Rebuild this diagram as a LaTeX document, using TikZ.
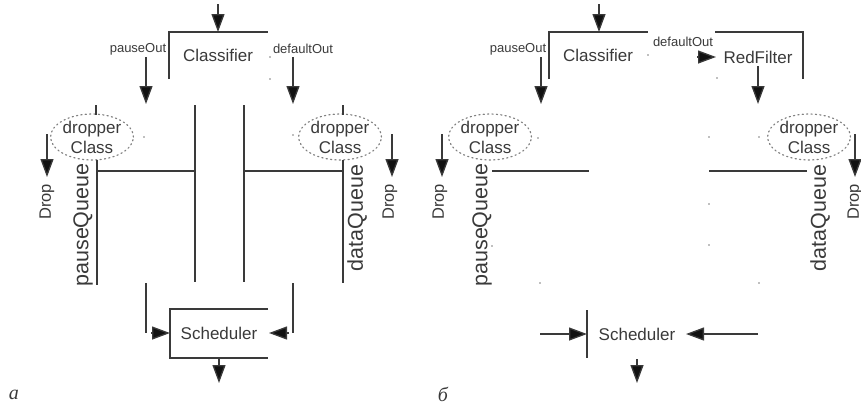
\documentclass[tikz,border=0pt]{standalone}
\usepackage{fontspec}
\setmainfont{Liberation Sans}
\newfontfamily\panelfont{Liberation Serif}
\usetikzlibrary{arrows.meta,shapes.geometric}
\definecolor{ink}{HTML}{3A3A3A}
\definecolor{tipink}{HTML}{111111}
\definecolor{dotgray}{HTML}{808080}

\begin{document}
\begin{tikzpicture}[x=1pt,y=-1pt,
  line/.style={draw=ink,line width=1.3pt},
  flow/.style={line,-{Triangle[length=18pt,width=13pt,fill=tipink]}},
  lbl/.style={text=ink,font=\fontsize{17}{20}\selectfont,inner sep=0pt},
  port/.style={text=ink,font=\fontsize{13}{15}\selectfont,inner sep=0pt},
  queue/.style={text=ink,font=\fontsize{21.5}{24}\selectfont,inner sep=0pt,rotate=90},
  droptxt/.style={text=ink,font=\fontsize{16.5}{19}\selectfont,inner sep=0pt,rotate=90},
  dropper/.style={ellipse,draw=dotgray,dash pattern=on 1.2pt off 3.2pt,line width=1.2pt,
    line cap=round,inner sep=0pt,text=ink,align=center,font=\fontsize{17}{20}\selectfont},
  speck/.style={fill=dotgray,draw=none,circle,inner sep=0pt,minimum size=1.6pt},
  panel/.style={text=ink,font=\panelfont\itshape\fontsize{20}{22}\selectfont,inner sep=0pt}
]
\useasboundingbox (0,0) rectangle (861,405);

% ---------------- panel a ----------------
% classifier
\coordinate (inA) at (218,4);
\coordinate (clsAtop) at (218,32);
\draw[line] (169,79) -- (169,32) -- (268,32);
\node[lbl] (clsA) at (218,55) {Classifier};
\draw[flow] (inA) -- (clsAtop);

% output ports
\node[port] (poA) at (138,49) {pauseOut};
\node[port] (doA) at (303,49) {defaultOut};
\coordinate (poAs) at (146,57);  \coordinate (poAe) at (146,104);
\coordinate (doAs) at (293,57);  \coordinate (doAe) at (293,104);
\draw[flow] (poAs) -- (poAe);
\draw[flow] (doAs) -- (doAe);

% dropper classes
\node[dropper,minimum width=77pt,minimum height=42pt] (dcAl) at (92,137) {dropper\\Class};
\node[dropper,minimum width=72pt,minimum height=42pt] (dcAr) at (340,137) {dropper\\Class};
\draw[line] (96,105) -- (96,115);
\draw[line] (343,105) -- (343,115);

% drops
\coordinate (dpAls) at (47,134);  \coordinate (dpAle) at (47,177);
\coordinate (dpArs) at (392,134); \coordinate (dpAre) at (392,177);
\draw[flow] (dpAls) -- (dpAle);
\draw[flow] (dpArs) -- (dpAre);
\node[droptxt] (dropAl) at (47,202) {Drop};
\node[droptxt] (dropAr) at (390,202) {Drop};

% queues
\node[queue] (pqA) at (83,225) {pauseQueue};
\node[queue] (dqA) at (357,218) {dataQueue};
\draw[line] (97,160) -- (97,285);
\draw[line] (97,171) -- (195,171);
\draw[line] (343,160) -- (343,283);
\draw[line] (244,171) -- (343,171);
\draw[line] (195,105) -- (195,282);
\draw[line] (244,105) -- (244,282);

% scheduler
\draw[line] (146,283) -- (146,333);
\draw[line] (293,283) -- (293,333);
\draw[line] (268,309) -- (170,309) -- (170,358) -- (268,358);
\node[lbl] (schA) at (219,333) {Scheduler};
\coordinate (saL) at (151,333); \coordinate (saLe) at (170,333);
\coordinate (saR) at (289,333); \coordinate (saRe) at (269,333);
\draw[flow] (saL) -- (saLe);
\draw[flow] (saR) -- (saRe);
\coordinate (outAs) at (219,358); \coordinate (outAe) at (219,383);
\draw[flow] (outAs) -- (outAe);

% specks
\foreach \p in {(270,57),(270,79),(144,137),(293,135)} \node[speck] at \p {};

\node[panel] (labA) at (14,395) {а};

% ---------------- panel b ----------------
% classifier
\coordinate (inB) at (599,4);
\coordinate (clsBtop) at (599,32);
\draw[line] (549,79) -- (549,32) -- (648,32);
\node[lbl] (clsB) at (598,55) {Classifier};
\draw[flow] (inB) -- (clsBtop);

\node[port] (poB) at (518,49) {pauseOut};
\node[port] (doB) at (683,42) {defaultOut};
\coordinate (poBs) at (541,57); \coordinate (poBe) at (541,104);
\draw[flow] (poBs) -- (poBe);

% red filter
\draw[line] (715,32) -- (803,32) -- (803,79);
\node[lbl] (red) at (758,57) {RedFilter};
\coordinate (doBs) at (697,57); \coordinate (doBe) at (716,57);
\draw[flow] (doBs) -- (doBe);
\coordinate (rfs) at (758,66); \coordinate (rfe) at (758,104);
\draw[flow] (rfs) -- (rfe);

% dropper classes
\node[dropper,minimum width=60pt,minimum height=43pt] (dcBl) at (490,137) {dropper\\Class};
\node[dropper,minimum width=74pt,minimum height=43pt] (dcBr) at (809,137) {dropper\\Class};

% drops
\coordinate (dpBls) at (442,134); \coordinate (dpBle) at (442,177);
\coordinate (dpBrs) at (855,134); \coordinate (dpBre) at (855,177);
\draw[flow] (dpBls) -- (dpBle);
\draw[flow] (dpBrs) -- (dpBre);
\node[droptxt] (dropBl) at (440,202) {Drop};
\node[droptxt] (dropBr) at (855,202) {Drop};

% queues
\node[queue] (pqB) at (482,225) {pauseQueue};
\node[queue] (dqB) at (820,218) {dataQueue};
\draw[line] (492,171) -- (589,171);
\draw[line] (709,171) -- (807,171);

% scheduler
\draw[line] (587,310) -- (587,358);
\node[lbl] (schB) at (637,334) {Scheduler};
\coordinate (sbL) at (540,334); \coordinate (sbLe) at (587,334);
\coordinate (sbR) at (758,334); \coordinate (sbRe) at (686,334);
\draw[flow] (sbL) -- (sbLe);
\draw[flow] (sbR) -- (sbRe);
\coordinate (outBs) at (637,359); \coordinate (outBe) at (637,383);
\draw[flow] (outBs) -- (outBe);

% specks
\foreach \p in {(648,55),(717,78),(538,138),(492,246),(540,283),
                (709,137),(759,137),(709,204),(709,245),(759,283)} \node[speck] at \p {};

\node[panel] (labB) at (443,394) {б};
\end{tikzpicture}
\end{document}
